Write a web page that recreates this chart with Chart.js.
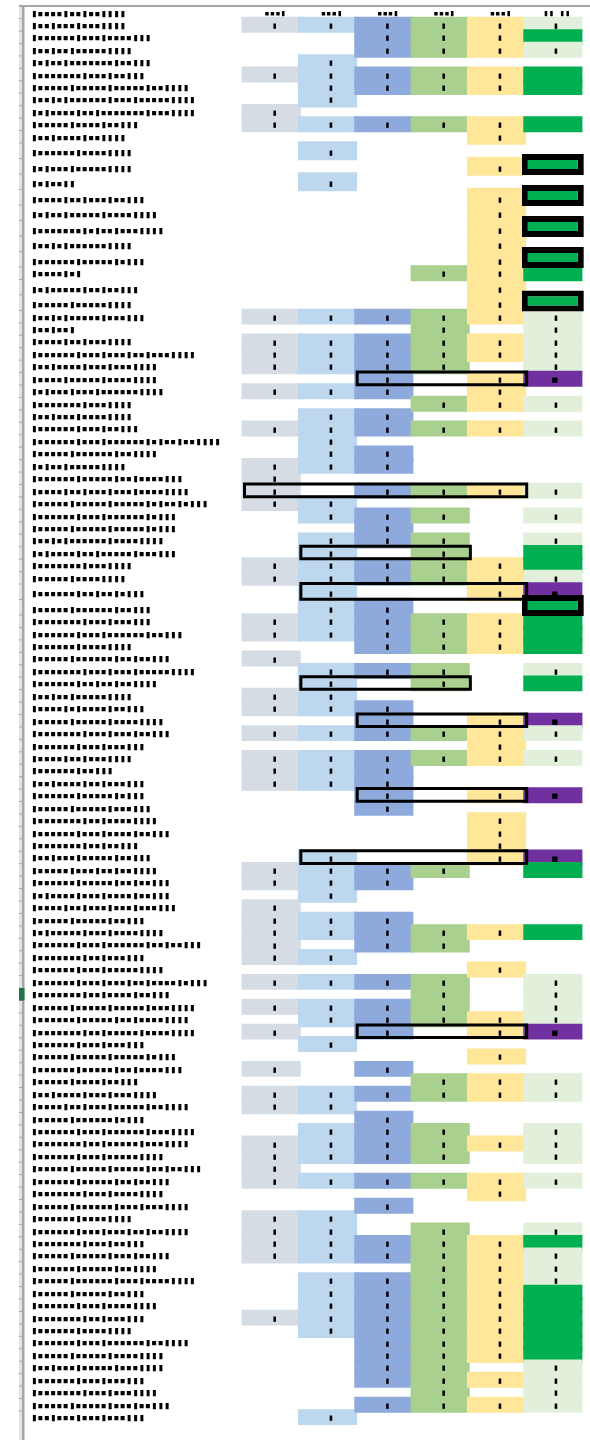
<!DOCTYPE html>
<html><head><meta charset="utf-8">
<script src="https://cdn.jsdelivr.net/npm/chart.js@4.4.1/dist/chart.umd.min.js"></script>
<style>html,body{margin:0;padding:0;background:#fff}canvas{display:block}</style>
</head><body>
<canvas id="c" width="590" height="1440"></canvas>
<script>
// ---------------- DATA ----------------
const headerLabel = "▮▪▪▪▪▮▪▪▮▪▪▮▮▮▮";
const columnKeys = ["c1","c2","c3","c4","c5","c6"];
const columnHeaders = ["▪▪▪▮","▪▪▪▮","▪▪▪▮","▪▪▪▮","▪▪▪▮","▮▮ ▮▮"];

const rowLabels = [
"▮▪▪▮▪▪▪▮▪▪▪▮▮▮▮",
"▮▪▪▪▪▪▪▮▪▪▪▮▪▪▪▪▮▮▮",
"▮▪▪▮▪▪▮▪▪▪▪▪▮▮▮▮",
"▮▪▮▪▪▮▪▪▪▪▪▪▪▮▪▪▮▮▮",
"▮▪▪▪▪▪▪▪▮▪▪▪▮▪▪▮▮▮",
"▮▪▪▪▪▪▮▪▪▪▪▪▮▪▪▪▪▪▮▪▪▮▮▮▮",
"▮▪▪▮▪▮▪▪▪▪▪▪▮▪▪▪▮▪▪▪▪▪▮▮▮▮",
"▮▪▮▪▪▪▪▮▪▪▮▪▪▪▪▪▪▪▮▪▪▪▮▮▮▮",
"▮▪▪▪▪▪▮▪▪▪▪▮▪▪▮▮▮",
"▮▪▪▮▪▪▪▪▮▪▪▮▮▮▮",
"▮▪▪▪▪▪▪▮▪▪▪▪▮▮▮▮",
"▮▪▮▪▪▪▮▪▪▪▪▪▮▮▮▮",
"▮▪▮▪▪▮▮",
"▮▪▪▪▪▮▪▪▮▪▪▪▮▪▪▮▮▮",
"▮▪▮▪▪▮▪▪▪▪▪▮▪▪▪▪▮▮▮▮",
"▮▪▪▪▪▪▪▪▮▪▮▪▪▮▪▪▪▮▮▮▮",
"▮▪▪▮▪▮▪▪▪▪▪▪▮▮▮▮",
"▮▪▪▪▪▪▪▮▪▪▪▪▪▮▪▮▮▮",
"▮▪▪▪▪▮▪▮",
"▮▪▮▪▪▪▪▪▮▪▪▮▪▪▮▮▮",
"▮▪▪▪▪▪▮▪▪▪▪▪▮▮▮▮",
"▮▪▪▮▪▮▪▪▪▪▪▮▪▪▪▮▮▮",
"▮▪▪▮▪▪▮",
"▮▪▪▪▪▮▪▪▮▪▪▪▮▮▮▮",
"▮▪▪▪▪▪▪▮▪▪▪▮▪▪▪▮▪▪▮▪▪▪▮▮▮▮",
"▮▪▪▮▪▪▪▪▮▪▪▪▮▪▪▪▮▮▮▮",
"▮▪▪▪▪▮▪▪▪▪▪▮▪▪▪▪▮▮▮▮",
"▮▪▮▪▪▪▮▪▪▪▮▪▪▪▪▪▪▮▮▮▮",
"▮▪▪▪▪▪▪▪▮▪▪▪▮▮▮▮",
"▮▪▪▮▪▪▪▮▪▪▪▪▮▮▮▮",
"▮▪▪▪▪▪▪▮▪▪▪▮▪▪▮▮▮",
"▮▪▪▪▪▪▪▮▪▪▪▮▪▪▪▪▪▪▮▪▮▪▪▮▪▪▮▮▮▮",
"▮▪▪▪▪▪▮▪▪▪▪▪▪▮▪▪▮▮▮▮",
"▮▪▮▪▪▮▪▪▪▪▪▮▮▮▮",
"▮▪▪▪▪▪▪▮▪▪▪▪▪▮▪▪▮▪▪▪▪▮▮▮",
"▮▪▪▪▪▮▪▪▮▪▪▪▮▪▪▪▮▪▪▪▪▮▮▮▮",
"▮▪▪▪▪▪▮▪▪▪▪▪▮▪▪▪▪▪▮▪▮▪▪▮▪▮▮▮",
"▮▪▪▪▪▪▪▮▪▪▪▮▪▪▪▪▪▪▮▪▮▮▮",
"▮▪▪▪▪▪▮▪▪▪▪▪▮▪▪▪▪▪▮▪▮▮▮",
"▮▪▪▮▪▮▪▪▪▪▪▪▮▪▪▪▪▮▮▮▮",
"▮▪▮▪▪▪▪▮▪▪▮▪▪▪▪▪▮▪▪▪▮▮▮",
"▮▪▪▪▪▪▪▪▮▪▪▪▮▮▮▮",
"▮▪▪▪▪▪▮▪▪▪▪▮▮▮▮",
"▮▪▪▪▪▪▪▮▪▪▮▪▪▮▪▮▮▮",
"▮▪▪▪▪▪▮▪▪▪▪▪▪▮▪▪▮▮▮",
"▮▪▪▪▪▪▪▪▮▪▪▪▮▪▪▪▮▮▮",
"▮▪▪▪▪▪▪▮▪▪▪▮▪▪▪▪▪▪▮▪▪▮▮▮",
"▮▪▪▪▪▪▪▮▪▪▪▪▮▮▮▮",
"▮▪▪▪▪▪▮▪▪▪▪▪▪▮▪▪▮▪▪▮▮▮",
"▮▪▪▪▪▪▪▪▮▪▪▪▮▪▪▪▮▪▪▪▪▪▮▮▮▮",
"▮▪▪▪▪▪▪▮▪▪▮▪▪▮▪▪▮▮▮▮",
"▮▪▪▮▪▪▮▪▪▪▪▪▮▮▮▮",
"▮▪▪▪▪▮▪▮▪▪▪▪▮▪▪▮▮▮",
"▮▪▪▪▪▪▮▪▪▪▪▪▮▪▪▪▪▮▮▮▮",
"▮▪▪▪▪▪▪▪▮▪▪▪▮▪▪▪▮▪▪▮▮▮",
"▮▪▪▪▪▪▪▮▪▪▪▮▪▪▪▮▮▮",
"▮▪▪▪▪▮▪▪▮▪▪▪▮▮▮▮",
"▮▪▪▪▪▪▪▮▪▪▮▮▮",
"▮▪▪▮▪▪▪▪▮▪▪▮▪▪▪▮▮▮",
"▮▪▪▪▪▪▪▮▪▪▪▪▪▮▪▮▮▮",
"▮▪▪▪▪▪▮▪▪▪▪▪▮▪▪▪▮▮▮",
"▮▪▪▪▪▪▪▪▮▪▪▮▪▪▪▪▮▮▮▮",
"▮▪▪▪▪▪▪▮▪▪▪▮▪▪▪▪▮▪▪▮▮▮",
"▮▪▪▪▪▪▪▪▮▪▪▮▪▪▮▮▮",
"▮▪▪▮▪▪▪▮▪▪▪▪▪▮▪▪▮▮▮",
"▮▪▪▪▪▪▮▪▪▪▮▪▪▮▪▪▮▮▮▮",
"▮▪▪▪▪▪▪▮▪▪▪▪▪▮▪▪▮▪▪▮▮▮",
"▮▪▮▪▪▪▪▮▪▪▪▮▪▪▪▪▮▪▪▮▮▮",
"▮▪▪▪▪▮▪▪▮▪▪▪▮▪▪▪▮▪▪▪▮▮▮",
"▮▪▪▪▪▪▮▪▪▪▪▪▮▪▪▮▮▮",
"▮▪▮▪▪▪▪▪▮▪▪▪▮▪▪▪▪▮▮▮▮",
"▮▪▪▪▪▪▪▮▪▪▪▮▪▪▪▪▪▪▮▪▪▮▪▪▮▮▮",
"▮▪▪▪▪▪▪▪▮▪▪▮▪▪▪▮▮▮",
"▮▪▪▪▪▪▪▮▪▪▪▮▪▪▪▪▪▮▮▮▮",
"▮▪▪▪▪▪▪▮▪▪▪▮▪▪▪▮▪▪▮▪▪▪▪▮▪▮▮▮",
"▮▪▪▪▪▪▪▪▮▪▪▮▪▪▪▪▮▪▪▮▮▮",
"▮▪▪▪▪▪▮▪▪▪▪▪▮▪▪▪▪▪▮▪▪▪▮▮▮▮",
"▮▪▪▪▪▪▪▮▪▪▪▪▪▮▪▪▮▪▪▪▪▮▮▮▮",
"▮▪▪▪▪▪▪▪▮▪▪▮▪▪▪▪▪▮▪▪▪▪▮▮▮▮",
"▮▪▪▪▪▪▪▮▪▪▪▮▪▪▪▮▮▮",
"▮▪▪▪▪▪▮▪▪▪▪▪▮▪▪▪▪▪▮▪▮▮▮",
"▮▪▪▪▪▪▪▮▪▪▪▪▪▮▪▪▮▪▪▪▪▮▮▮",
"▮▪▪▪▪▪▮▪▪▪▪▮▪▪▮▮▮",
"▮▪▪▮▪▪▪▪▮▪▪▪▮▪▪▪▮▮▮▮",
"▮▪▪▪▪▮▪▪▮▪▪▪▮▪▪▪▪▪▮▪▪▮▮▮▮",
"▮▪▪▪▪▪▮▪▪▪▪▪▪▮▪▮▮▮",
"▮▪▪▪▪▪▪▮▪▪▪▮▪▪▪▪▪▪▮▪▪▪▮▮▮▮",
"▮▪▪▪▪▪▪▪▮▪▪▮▪▪▪▪▪▮▪▪▪▮▮▮▮",
"▮▪▪▪▪▪▪▮▪▪▪▮▪▪▪▪▪▮▮▮▮",
"▮▪▪▪▪▪▮▪▪▪▪▪▮▪▪▪▪▪▮▪▪▮▪▪▮▮▮",
"▮▪▪▪▪▪▪▮▪▪▪▪▪▮▪▪▮▪▪▮▮▮",
"▮▪▪▪▪▪▪▪▮▪▪▪▮▪▪▪▪▮▮▮▮",
"▮▪▪▪▪▪▮▪▪▪▪▪▪▮▪▪▪▮▪▪▪▮▮▮▮",
"▮▪▪▪▪▪▪▮▪▪▪▪▮▮▮▮",
"▮▪▪▪▪▪▪▮▪▪▪▮▪▪▪▮▪▪▮▪▪▮▮▮▮",
"▮▪▪▪▪▪▪▪▮▪▪▪▮▪▪▮▮▮",
"▮▪▪▪▪▪▮▪▪▪▪▪▮▪▪▪▮▪▪▮▮▮",
"▮▪▪▪▪▪▪▮▪▪▪▪▪▮▪▪▮▮▮▮",
"▮▪▪▪▪▪▮▪▪▪▪▪▪▮▪▪▪▮▪▪▪▪▮▮▮▮",
"▮▪▪▪▪▪▮▪▪▪▪▪▮▪▪▮▮▮",
"▮▪▪▪▪▪▪▮▪▪▪▮▪▪▪▪▮▮▮▮",
"▮▪▪▪▪▪▪▪▮▪▪▮▪▪▪▮▮▮",
"▮▪▪▪▪▪▪▮▪▪▪▪▮▮▮▮",
"▮▪▪▪▪▪▪▮▪▪▪▮▪▪▪▪▪▪▮▪▪▮▮▮▮",
"▮▪▪▪▪▪▮▪▪▪▪▪▮▪▪▪▪▮▮▮▮",
"▮▪▪▮▪▪▪▮▪▪▪▪▪▮▪▪▪▮▮▮▮",
"▮▪▪▪▪▪▪▮▪▪▪▮▪▪▪▮▮▮",
"▮▪▪▪▪▪▪▪▮▪▪▪▮▪▪▪▮▮▮▮",
"▮▪▪▪▪▪▮▪▪▪▪▪▮▪▪▪▮▪▪▮▮▮",
"▮▪▪▮▪▪▪▮▪▪▪▮▪▪▪▮▮▮"
];

// one entry per data row (rows 2..111), 1 = filled cell
const col1 = [1,0,0,0,1,0,0,1,1,0, 0,0,0,0,0,0,0,0,0,0, 0,1,0,1,1,1,0,1,0,0, 1,0,0,1,1,1,1,0,0,0,
              0,1,1,0,0,1,1,0,1,0, 0,1,1,0,1,0,1,1,1,0, 0,0,0,0,0,1,1,0,1,1, 1,1,1,0,1,0,1,0,1,0,
              0,1,0,1,1,0,0,1,1,1, 1,0,0,1,1,1,1,0,0,0, 0,1,0,0,0,0,0,0,0,0];
const col2 = [1,0,0,1,1,1,1,0,1,0, 1,0,1,0,0,0,0,0,0,0, 0,1,0,1,1,1,0,1,0,1, 1,1,1,1,0,0,1,1,0,1,
              1,1,1,1,1,1,1,0,0,1, 1,1,1,0,1,0,1,1,1,0, 0,0,0,0,1,1,1,1,0,1, 1,0,1,0,1,0,1,1,0,1,
              0,0,0,1,1,0,1,1,1,0, 1,0,0,1,1,1,1,0,1,1, 1,1,1,0,0,0,0,0,0,1];
const col3 = [1,1,1,0,1,1,0,0,1,0, 0,0,0,0,0,0,0,0,0,0, 0,1,0,1,1,1,1,1,0,1, 1,0,1,1,0,1,0,1,1,1,
              0,1,1,0,1,1,1,1,0,1, 0,0,1,1,1,0,1,1,1,1, 1,0,0,0,0,1,1,0,0,1, 1,1,0,0,1,0,1,1,1,0,
              0,1,0,1,0,1,1,1,1,0, 1,0,1,0,0,1,1,0,1,1, 1,1,1,1,1,1,1,0,1,0];
const col4 = [1,1,1,0,1,1,0,0,1,0, 0,0,0,0,0,0,0,0,1,0, 0,1,1,1,1,1,0,0,1,0, 1,0,0,0,0,1,0,1,0,1,
              1,1,1,0,0,1,1,1,0,1, 1,0,0,0,1,0,1,0,0,0, 0,0,0,0,0,1,0,0,0,0, 1,1,0,0,1,1,1,1,0,0,
              0,0,1,1,0,0,1,1,1,0, 1,0,0,0,1,1,1,1,1,1, 1,1,1,1,1,1,1,1,1,0];
const col5 = [1,1,1,0,1,1,0,0,1,1, 0,1,0,1,1,1,1,1,1,1, 1,1,0,1,1,0,1,1,1,0, 1,0,0,0,0,1,0,0,0,0,
              0,1,1,1,0,1,1,1,0,0, 0,0,0,1,1,1,1,0,0,1, 0,1,1,1,1,0,0,0,0,0, 1,0,0,1,0,0,0,1,1,0,
              1,0,1,1,0,0,0,1,0,0, 1,1,0,0,0,1,1,1,1,1, 1,1,1,1,1,0,1,0,1,0];
// L = light green, G = green, P = purple, B = green framed in black, "" = empty
const col6 = ["L","G","L","","G","G","","","G","",  "","B","","B","","B","","B","G","",
              "B","L","L","L","L","L","P","","L","",  "L","","","","","L","","L","","L",
              "G","G","L","P","B","G","G","G","","L",  "G","","","P","L","","L","","","P",
              "","","","","P","G","","","","",  "G","","","","L","L","L","L","P","",
              "","","L","L","","","L","L","L","",  "L","","","","L","G","L","L","L","G",
              "G","G","G","G","G","L","L","L","L",""];
// framed ranges: [data row index, first column, last column]
const framedRanges = [[26,3,5],[35,1,5],[40,2,4],[43,2,5],[50,2,4],[53,3,5],[59,3,5],[64,2,5],[78,3,5]];

// ---------------- LAYOUT ----------------
const ROW_H = 12.436, TALL_H = 15.5;
const TALL_ROWS = new Set([10,11,12,13,14,15,16,17,19,20,43,44]);
const OV = 1.75;
const rowTop = [], rowBottom = [];
{ let acc = 0; for (let i = 0; i < rowLabels.length; i++) { rowTop.push(acc); acc += TALL_ROWS.has(i) ? TALL_H : ROW_H; rowBottom.push(acc); } }
const textVal = i => rowBottom[i] - 5;
const HEADER_VAL = -4.6;
const SELECTED_ROW = 75;

const COL_COLORS = ['#D6DCE4','#BDD7EE','#8EA9DB','#A9D08E','#FFE699'];
const C6_COLORS = {L:'#E2EFDA', G:'#00B050', P:'#7030A0', B:'#00B050'};

const datasets = [];
[col1,col2,col3,col4,col5].forEach((arr, c) => {
  datasets.push({
    type:'bar', label: columnKeys[c], xAxisID:'x', yAxisID:'y',
    data: arr.map((v, r) => v ? {x: columnKeys[c], y: [rowTop[r]-OV, rowBottom[r]+OV]} : null).filter(Boolean),
    backgroundColor: COL_COLORS[c], borderWidth: 0, barPercentage: 1.05, categoryPercentage: 1,
    grouped: false, clip: false, order: 20 - c
  });
});
datasets.push({
  type:'bar', label:'c6', xAxisID:'x', yAxisID:'y',
  data: col6.map((k, r) => (k && k !== 'B') ? {x:'c6', y:[rowTop[r]-OV, rowBottom[r]+OV], k} : null).filter(Boolean),
  backgroundColor: ctx => (ctx.raw && C6_COLORS[ctx.raw.k]) || '#E2EFDA',
  borderWidth: 0, barPercentage: 1.05, categoryPercentage: 1, grouped: false, clip: false, order: 14
});
datasets.push({
  type:'bar', label:'c6 framed', xAxisID:'x', yAxisID:'y',
  data: col6.map((k, r) => k === 'B' ? {x:'c6', y:[rowTop[r]-4.5, rowBottom[r]+1], k} : null).filter(Boolean),
  backgroundColor: C6_COLORS.B, borderColor:'#000', borderWidth: 6, borderSkipped: false,
  barPercentage: 1.1, categoryPercentage: 1, grouped: false, clip: false, order: 13
});
const framePts = [];
framedRanges.forEach(([r, f, t]) => {
  const a = f - 1 + 0.027, b = t + 0.036, tp = rowTop[r] - 0.5, bt = rowBottom[r] - 0.3;
  framePts.push({x:a,y:tp},{x:b,y:tp},{x:b,y:bt},{x:a,y:bt},{x:a,y:tp},{x:a,y:null});
});
datasets.push({
  type:'line', label:'frames', xAxisID:'x2', yAxisID:'y', data: framePts,
  borderColor:'#000', borderWidth: 3, pointRadius: 0, pointHoverRadius: 0, fill: false, tension: 0,
  spanGaps: false, borderJoinStyle:'miter', borderCapStyle:'square', order: 0, clip: false
});

const decor = {
  id:'decor',
  beforeDraw(chart) {
    const {ctx, scales:{y}} = chart;
    ctx.save();
    ctx.fillStyle = '#fff'; ctx.fillRect(0, 0, chart.width, chart.height);
    ctx.fillStyle = '#E4E4E4'; ctx.fillRect(19, 7, 3, chart.height - 7);
    ctx.fillStyle = '#A6A6A6';
    ctx.fillRect(19, 5, chart.width - 19, 2);
    ctx.fillRect(22, 5, 2.5, chart.height - 5);
    rowTop.forEach(t => { ctx.fillRect(19, y.getPixelForValue(t) - 0.5, 3, 1); });
    ctx.fillStyle = '#217346';
    const t0 = y.getPixelForValue(rowTop[SELECTED_ROW]), b0 = y.getPixelForValue(rowBottom[SELECTED_ROW]);
    ctx.fillRect(19, t0, 5.5, b0 - t0);
    ctx.restore();
  }
};
const marks = {
  id:'marks',
  afterDatasetsDraw(chart) {
    const {ctx, scales:{x, y}} = chart;
    ctx.save();
    ctx.fillStyle = '#000'; ctx.textAlign = 'center'; ctx.textBaseline = 'middle';
    ctx.font = '7px "DejaVu Sans"';
    [col1,col2,col3,col4,col5].forEach((arr, c) => arr.forEach((v, r) => {
      if (v) ctx.fillText('▮', x.getPixelForValue(c) + 3.5, y.getPixelForValue(textVal(r)));
    }));
    col6.forEach((k, r) => {
      if (k === 'L') ctx.fillText('▮', x.getPixelForValue(5) + 3, y.getPixelForValue(textVal(r)));
      if (k === 'P') ctx.fillText('■', x.getPixelForValue(5) + 2, y.getPixelForValue(textVal(r)));
    });
    ctx.restore();
  }
};

new Chart(document.getElementById('c'), {
  type:'bar',
  data:{ labels: columnKeys, datasets },
  options:{
    responsive:false, animation:false, events:[],
    layout:{ padding:{ left:31, right:9, top:10, bottom:15 } },
    plugins:{ legend:{display:false}, tooltip:{enabled:false} },
    scales:{
      x:{ type:'category', position:'top', offset:true,
          grid:{display:false, drawTicks:false}, border:{display:false},
          ticks:{ autoSkip:false, maxRotation:0, padding:0, labelOffset:4, color:'#000',
                  font:{family:'DejaVu Sans Mono', size:9, lineHeight:'8px'},
                  callback:(v,i) => columnHeaders[i] } },
      x2:{ type:'linear', display:false, offset:false, min:0, max:6 },
      y:{ type:'linear', reverse:true, min:-0.6, max:1406.4, position:'left',
          grid:{display:false, drawTicks:false}, border:{display:false},
          afterBuildTicks: s => { s.ticks = [{value: HEADER_VAL}].concat(rowLabels.map((_, i) => ({value: textVal(i)}))); },
          afterFit: s => { s.width = 212; },
          ticks:{ autoSkip:false, crossAlign:'far', padding:0, color:'#000',
                  font:{family:'DejaVu Sans Mono', size:10.5, lineHeight:1},
                  callback:(v,i) => i === 0 ? headerLabel : rowLabels[i-1] } }
    }
  },
  plugins:[decor, marks]
});
</script>
</body></html>
